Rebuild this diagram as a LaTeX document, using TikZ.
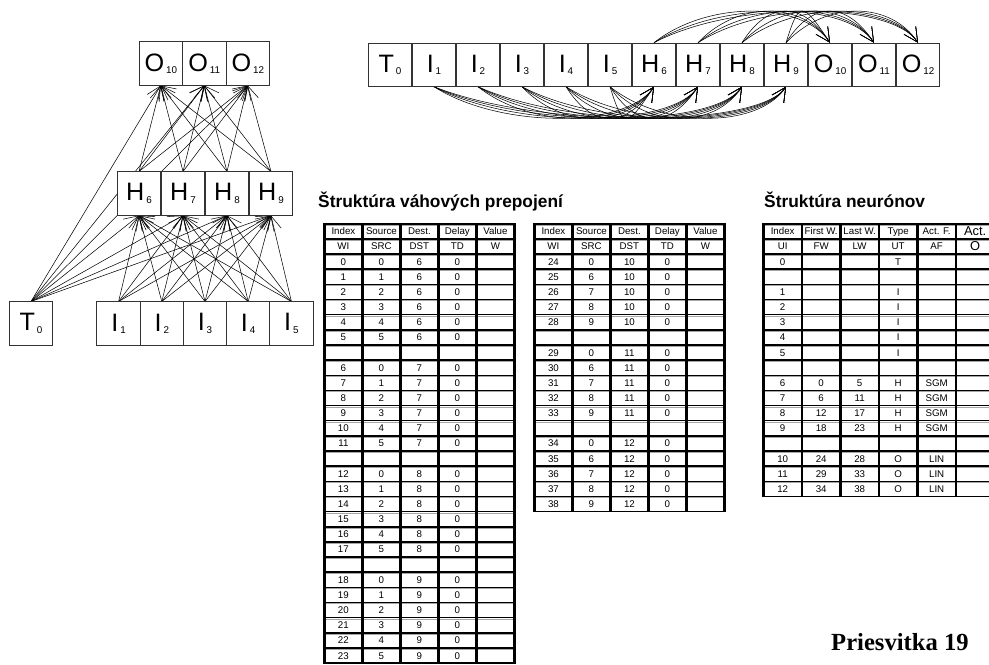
\documentclass[tikz,border=0pt]{standalone}
\usepackage{fontspec}
\setmainfont{Liberation Sans}
\newfontfamily\slidefont{Liberation Serif}
\usetikzlibrary{arrows.meta,backgrounds}

\newcommand{\unitname}[2]{{\fontsize{21.5}{22}\selectfont #1}\,\raisebox{-2pt}{\fontsize{8.4}{9}\selectfont #2}}

\tikzset{
  neuron/.style={draw=black!80,line width=0.6pt,fill=white,minimum width=1.31cm,minimum height=1.3cm,inner sep=0pt},
  link/.style={->,line width=0.45pt},
  cell/.style={inner sep=0pt,text height=6pt,text depth=0pt,font=\fontsize{8.3}{9}\selectfont},
  bigcell/.style={inner sep=0pt,text height=7.6pt,text depth=0pt,font=\fontsize{11}{12}\selectfont},
  heading/.style={anchor=base west,inner sep=0pt,font=\fontsize{14.8}{16}\selectfont\bfseries},
}

\begin{document}
\begin{tikzpicture}[x=0.03cm,y=-0.03cm,>={Straight Barb[length=12pt,width=12pt]}]
\useasboundingbox (0,0) rectangle (989,664);
\clip (0,0) rectangle (989,664);

% network drawn as layers
\foreach \un [count=\kk from 0] in {10,11,12}
  \node[neuron] (nO\un) at (160.75+43.5*\kk,63.5) {\unitname{O}{\un}};
\foreach \un [count=\kk from 0] in {6,...,9}
  \node[neuron] (nH\un) at (139+44*\kk,193.5) {\unitname{H}{\un}};
\node[neuron] (nT0) at (31,323.5) {\unitname{T}{0}};
\foreach \un [count=\kk from 0] in {1,...,5}
  \node[neuron] (nI\un) at (118.6+43.2*\kk,323.5) {\unitname{I}{\un}};
\begin{scope}[on background layer]
\foreach \hh in {6,...,9} {
  \draw[link] (nT0.north) -- (nH\hh.south);
  \foreach \ii in {1,...,5}
    \draw[link] (nI\ii.north) -- (nH\hh.south);
  \foreach \oo in {10,11,12}
    \draw[link] (nH\hh.north) -- (nO\oo.south);
}
\foreach \oo in {10,11,12}
  \draw[link] (nT0.north) -- (nO\oo.south);
\end{scope}

% the same units in one row
\foreach \ltr/\un [count=\kk from 0] in {T/0,I/1,I/2,I/3,I/4,I/5,H/6,H/7,H/8,H/9,O/10,O/11,O/12}
  \node[neuron] (r\ltr\un) at (390+44*\kk,64.7) {\unitname{\ltr}{\un}};
\begin{scope}[on background layer]
\foreach \ii in {1,...,5}
  \foreach \hh in {6,...,9} {
    \pgfmathsetmacro\arcdx{13.2*(\hh-\ii)}
    \draw[link] (rI\ii.south) .. controls +(\arcdx,42) and +(-28,42) .. (rH\hh.south);
  }
\foreach \hh in {6,...,9}
  \foreach \oo in {10,11,12} {
    \pgfmathsetmacro\arcdx{13.2*(\oo-\hh)}
    \draw[link] (rH\hh.north) .. controls +(\arcdx,-42) and +(-28,-42) .. (rO\oo.north);
  }
\end{scope}

% tables: black frame, white cells
\foreach \tx/\lc/\cw/\lr in {324.4/4/38/28,534.4/4/38/18,763.4/5/38.5/17} {
  \fill (\tx-1.4,222.5) rectangle (\tx+\lc*\cw+\cw+1.4,223+\lr*15.15+15.15+1.5);
  \foreach \rr in {0,...,\lr}
    \foreach \cc in {0,...,\lc} {
      \fill[white] (\tx+\cc*\cw+1.4,223+\rr*15.15+1.5) rectangle (\tx+\cc*\cw+\cw-1.4,223+\rr*15.15+15.15);
      \draw[black!35,line width=0.5pt] (\tx+\cc*\cw+1.4,223+\rr*15.15+2) -- (\tx+\cc*\cw+\cw-1.4,223+\rr*15.15+2);
    }
}

\node[heading] (wtitle) at (318,207) {Štruktúra váhových prepojení};
\node[heading] (utitle) at (764,207) {Štruktúra neurónov};

% weight tables
\foreach \tx/\tn in {324.4/wa,534.4/wb} {
  \foreach \txt [count=\cc from 0] in {Index,Source,Dest.,Delay,Value}
    \node[cell] (\tn-0-\cc) at (\tx+\cc*38+19,223+8.3) {\txt};
  \foreach \txt [count=\cc from 0] in {WI,SRC,DST,TD,W}
    \node[cell] (\tn-1-\cc) at (\tx+\cc*38+19,223+15.15+8.3) {\txt};
}
\foreach \dd in {6,...,9}
  \foreach \src in {0,...,5} {
    \pgfmathtruncatemacro\rr{2+(\dd-6)*7+\src}
    \pgfmathtruncatemacro\wi{(\dd-6)*6+\src}
    \foreach \v [count=\cc from 0] in {\wi,\src,\dd,0}
      \node[cell] (wa-\rr-\cc) at (324.4+\cc*38+19,223+\rr*15.15+8.3) {\v};
  }
\foreach \dd [count=\kk from 0] in {10,11,12}
  \foreach \src [count=\jj from 0] in {0,6,7,8,9} {
    \pgfmathtruncatemacro\rr{2+\kk*6+\jj}
    \pgfmathtruncatemacro\wi{24+\kk*5+\jj}
    \foreach \v [count=\cc from 0] in {\wi,\src,\dd,0}
      \node[cell] (wb-\rr-\cc) at (534.4+\cc*38+19,223+\rr*15.15+8.3) {\v};
  }

% unit table
\foreach \txt [count=\cc from 0] in {Index,First W.,Last W.,Type,Act. F.}
  \node[cell] (ut-0-\cc) at (763.4+\cc*38.5+19.25,223+8.3) {\txt};
\node[bigcell] (ut-0-5) at (763.4+5*38.5+19.25,223+8.3) {Act.};
\foreach \txt [count=\cc from 0] in {UI,FW,LW,UT,AF}
  \node[cell] (ut-1-\cc) at (763.4+\cc*38.5+19.25,223+15.15+8.3) {\txt};
\node[bigcell] (ut-1-5) at (763.4+5*38.5+19.25,223+15.15+8.3) {O};
\foreach \rr/\ui/\ut in {2/0/T,4/1/I,5/2/I,6/3/I,7/4/I,8/5/I,10/6/H,11/7/H,12/8/H,13/9/H,15/10/O,16/11/O,17/12/O} {
  \node[cell] (ut-\rr-0) at (763.4+19.25,223+\rr*15.15+8.3) {\ui};
  \node[cell] (ut-\rr-3) at (763.4+3*38.5+19.25,223+\rr*15.15+8.3) {\ut};
}
\foreach \rr/\fw/\lw/\af in {10/0/5/SGM,11/6/11/SGM,12/12/17/SGM,13/18/23/SGM,15/24/28/LIN,16/29/33/LIN,17/34/38/LIN} {
  \node[cell] (ut-\rr-1) at (763.4+38.5+19.25,223+\rr*15.15+8.3) {\fw};
  \node[cell] (ut-\rr-2) at (763.4+2*38.5+19.25,223+\rr*15.15+8.3) {\lw};
  \node[cell] (ut-\rr-4) at (763.4+4*38.5+19.25,223+\rr*15.15+8.3) {\af};
}

\node[anchor=base west,inner sep=0pt,font=\slidefont\bfseries\fontsize{21}{22}\selectfont] (slide) at (831,650) {Priesvitka 19};
\end{tikzpicture}
\end{document}
